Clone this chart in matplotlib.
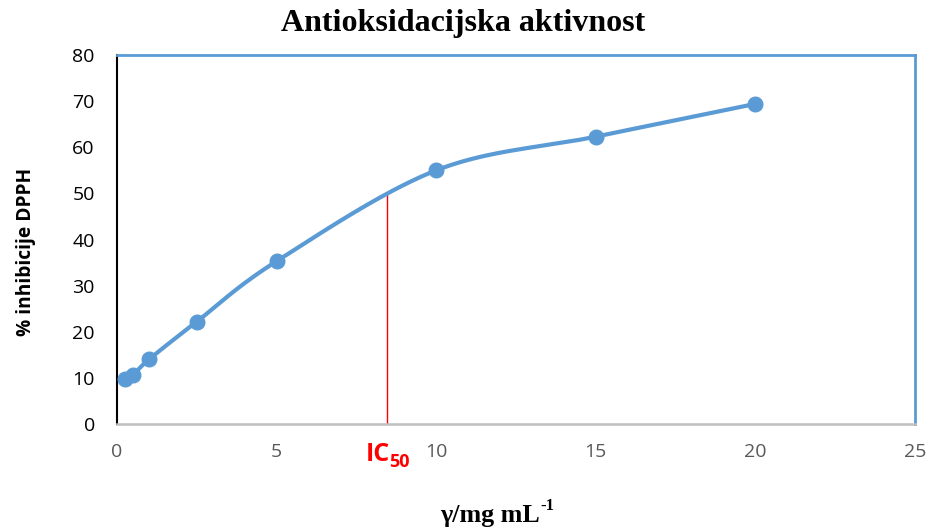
import numpy as np
import matplotlib.pyplot as plt

# Data
conc = [0.25, 0.5, 1, 2.5, 5, 10, 15, 20]
inhibition = [9.8, 10.7, 14.0, 22.2, 35.3, 55.0, 62.3, 69.4]
ic50 = 8.45
x_ticks = [0, 5, 10, 15, 20, 25]
y_ticks = [0, 10, 20, 30, 40, 50, 60, 70, 80]

blue = '#5B9BD5'


def smooth_curve(x, y, n=40):
    # Excel-like smoothed line: cubic Bezier through points (Catmull-Rom tangents)
    x = np.asarray(x, float)
    y = np.asarray(y, float)
    px = np.concatenate([[x[0]], x, [x[-1]]])
    py = np.concatenate([[y[0]], y, [y[-1]]])
    xs, ys = [], []
    t = np.linspace(0, 1, n)
    for i in range(1, len(px) - 2):
        p0 = np.array([px[i], py[i]])
        p3 = np.array([px[i + 1], py[i + 1]])
        c1 = p0 + (np.array([px[i + 1], py[i + 1]]) - np.array([px[i - 1], py[i - 1]])) / 6
        c2 = p3 - (np.array([px[i + 2], py[i + 2]]) - np.array([px[i], py[i]])) / 6
        b = ((1 - t) ** 3)[:, None] * p0 + (3 * (1 - t) ** 2 * t)[:, None] * c1 \
            + (3 * (1 - t) * t ** 2)[:, None] * c2 + (t ** 3)[:, None] * p3
        xs.extend(b[:, 0])
        ys.extend(b[:, 1])
    return np.array(xs), np.array(ys)


fig = plt.figure(figsize=(9.31, 5.30), dpi=100)
ax = fig.add_axes([0.1257, 0.2, 0.8571, 0.6962])

sx, sy = smooth_curve(conc, inhibition)
ax.plot(sx, sy, color=blue, linewidth=3, solid_capstyle='round', zorder=3)
ax.plot(conc, inhibition, 'o', color=blue, markersize=10.5, zorder=4)

# IC50 marker line
ax.plot([ic50, ic50], [0, 50], color='red', linewidth=1, zorder=2)

ax.set_xlim(0, 25)
ax.set_ylim(0, 80)
ax.set_xticks(x_ticks)
ax.set_yticks(y_ticks)
ax.tick_params(axis='x', length=0, labelsize=14, labelcolor='#595959', pad=14)
ax.tick_params(axis='y', length=0, labelsize=14, labelcolor='black', pad=16)
for lab in ax.get_xticklabels() + ax.get_yticklabels():
    lab.set_family('Open Sans')

ax.spines['top'].set_color(blue)
ax.spines['right'].set_color(blue)
ax.spines['top'].set_linewidth(2)
ax.spines['right'].set_linewidth(2)
ax.spines['left'].set_color('black')
ax.spines['left'].set_linewidth(1.5)
ax.spines['bottom'].set_color('#BFBFBF')
ax.spines['bottom'].set_linewidth(1.8)

# IC50 label with subscript, drawn as two texts
ic_x = ax.transData.transform((ic50, 0))[0] / fig.bbox.width
fig.text(ic_x + 0.003, 0.142, 'IC', color='red', fontsize=18, fontweight='bold',
         ha='right', va='center', family='Open Sans')
fig.text(ic_x + 0.003, 0.128, '50', color='red', fontsize=13, fontweight='bold',
         ha='left', va='center', family='Open Sans')

fig.text(0.497, 0.955, 'Antioksidacijska aktivnost', ha='center', va='center',
         fontsize=23, fontweight='bold', family='Liberation Serif')
fig.text(0.580, 0.028, 'γ/mg mL', ha='right', va='center',
         fontsize=18.7, fontweight='bold', family='Liberation Serif')
fig.text(0.580, 0.045, '-1', ha='left', va='center',
         fontsize=12, fontweight='bold', family='Liberation Serif')
fig.text(0.028, 0.525, '% inhibicije DPPH', rotation=90, ha='center', va='center',
         fontsize=13.8, fontweight='bold', family='Open Sans')

fig.savefig('out.png', dpi=100)
